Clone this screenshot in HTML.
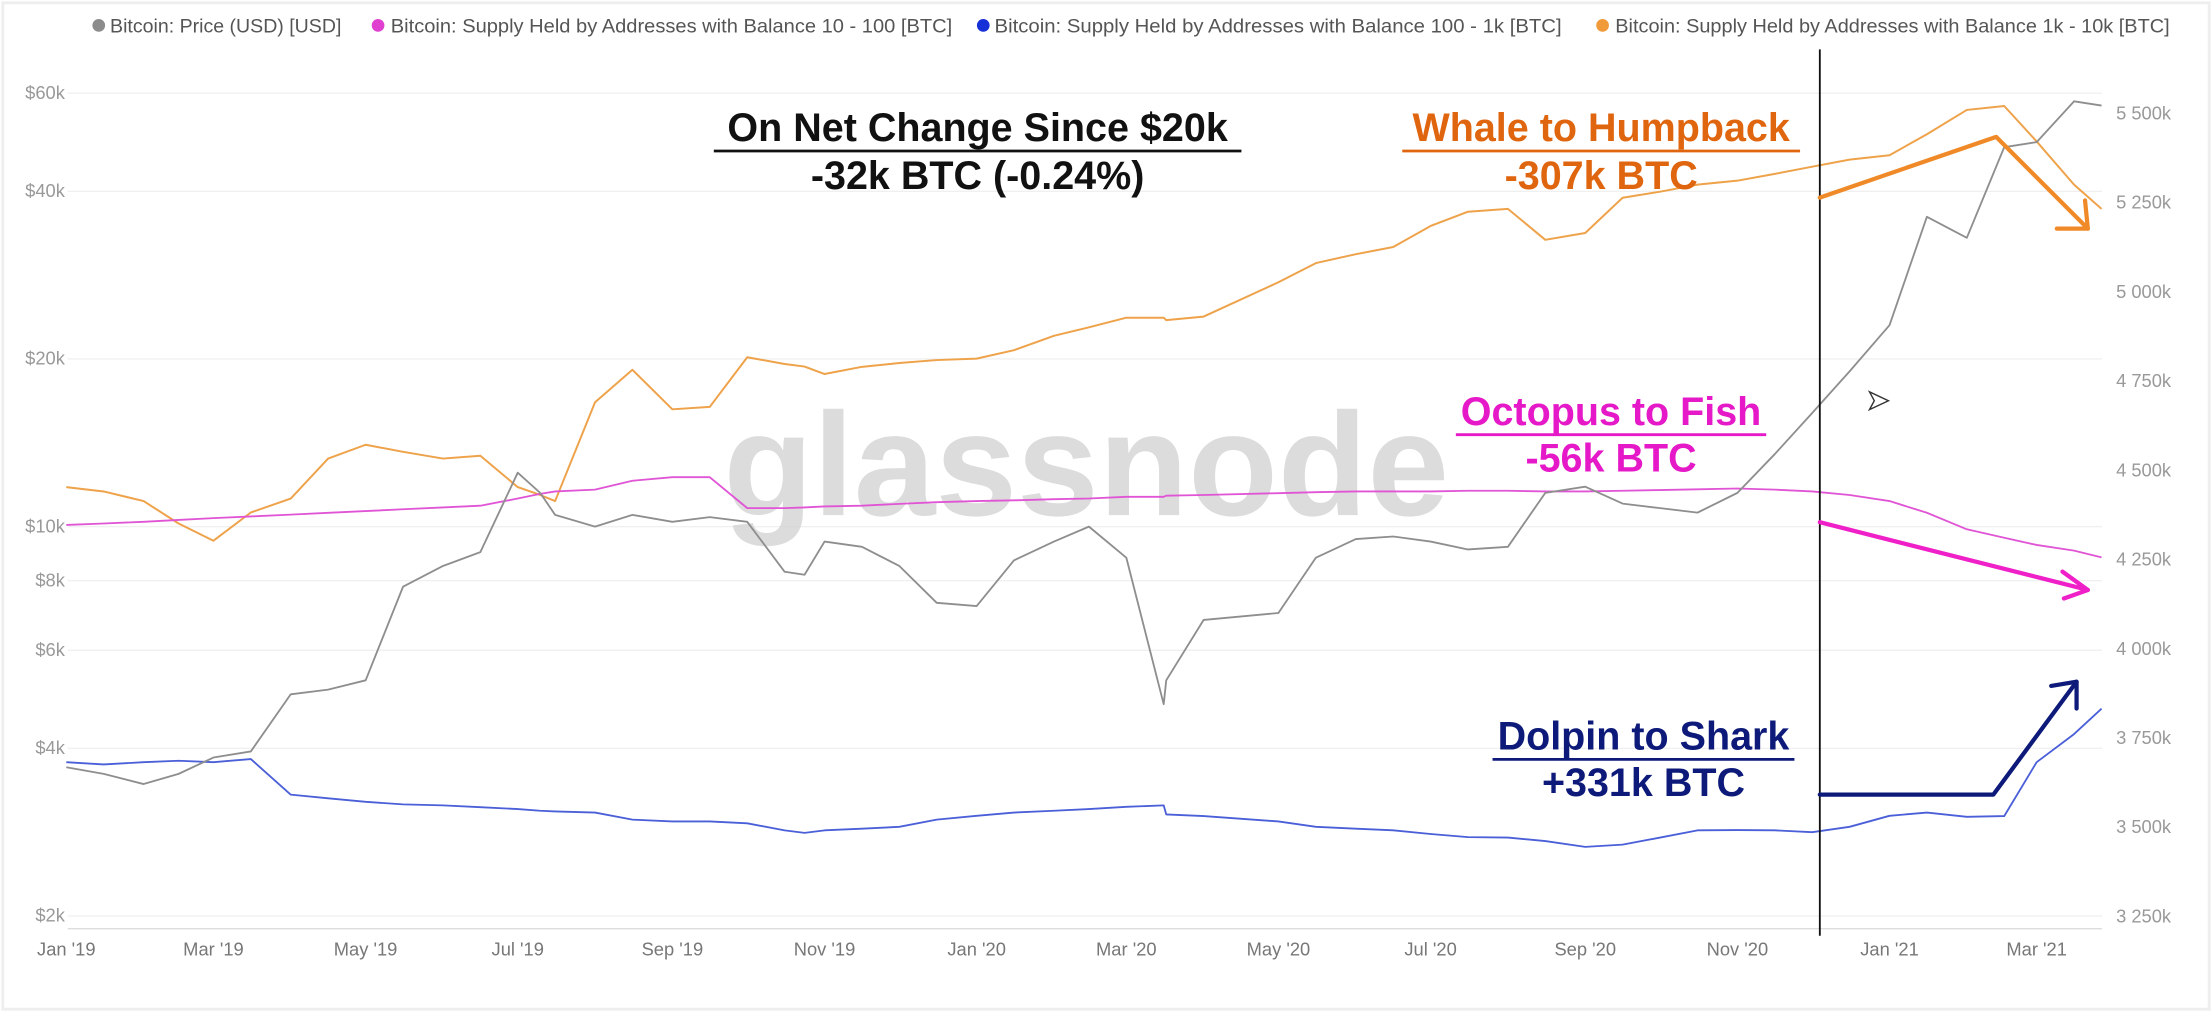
<!DOCTYPE html>
<html><head><meta charset="utf-8"><style>
html,body{margin:0;padding:0;background:#fff;}
svg{display:block;font-family:"Liberation Sans",sans-serif;}
</style></head><body>
<svg id="chart" width="2212" height="1012" viewBox="0 0 1568 717" preserveAspectRatio="none" xmlns="http://www.w3.org/2000/svg">
<rect x="0" y="0" width="1568" height="717" fill="#fff"/>
<rect x="2" y="2" width="1564" height="713" fill="none" stroke="#eee" stroke-width="2"/>
<g id="legend" font-size="14" fill="#555">
 <g><circle cx="70" cy="18" r="4.5" fill="#8c8c8c"/><text x="78" y="23" textLength="164" lengthAdjust="spacingAndGlyphs">Bitcoin: Price (USD) [USD]</text></g>
 <g><circle cx="268" cy="18" r="4.5" fill="#e040d0"/><text x="277" y="23" textLength="398" lengthAdjust="spacingAndGlyphs">Bitcoin: Supply Held by Addresses with Balance 10 - 100 [BTC]</text></g>
 <g><circle cx="697" cy="18" r="4.5" fill="#1630d8"/><text x="705" y="23" textLength="402" lengthAdjust="spacingAndGlyphs">Bitcoin: Supply Held by Addresses with Balance 100 - 1k [BTC]</text></g>
 <g><circle cx="1136" cy="18" r="4.5" fill="#f09a3a"/><text x="1145" y="23" textLength="393" lengthAdjust="spacingAndGlyphs">Bitcoin: Supply Held by Addresses with Balance 1k - 10k [BTC]</text></g>
</g>
<g id="grid"></g>
<g id="yleft" font-size="13" fill="#999"></g>
<g id="yright" font-size="13" fill="#999"></g>
<g id="xaxis" font-size="13" fill="#777"></g>
<text x="770" y="365" font-size="104" font-weight="bold" fill="#d6d6d6" text-anchor="middle" opacity="0.85">glassnode</text>
<g id="series"></g>
<line x1="1290" y1="35" x2="1290" y2="663" stroke="#111" stroke-width="1.3"/>
<g font-weight="bold" text-anchor="middle" font-size="28">
 <text x="693" y="100" fill="#111">On Net Change Since $20k</text>
 <line x1="506" y1="107" x2="880" y2="107" stroke="#111" stroke-width="2"/>
 <text x="693" y="134" fill="#111">-32k BTC (-0.24%)</text>
 <text x="1135" y="100" fill="#e0650f">Whale to Humpback</text>
 <line x1="994" y1="107" x2="1276" y2="107" stroke="#e0650f" stroke-width="2"/>
 <text x="1135" y="134" fill="#e0650f">-307k BTC</text>
 <text x="1142" y="301" fill="#e619c8">Octopus to Fish</text>
 <line x1="1032" y1="308" x2="1252" y2="308" stroke="#e619c8" stroke-width="2"/>
 <text x="1142" y="334" fill="#e619c8">-56k BTC</text>
 <text x="1165" y="531" fill="#0d1a7a">Dolpin to Shark</text>
 <line x1="1058" y1="538" x2="1272" y2="538" stroke="#0d1a7a" stroke-width="2"/>
 <text x="1165" y="564" fill="#0d1a7a">+331k BTC</text>
</g>
<g fill="none" stroke-width="3" stroke-linejoin="round" stroke-linecap="round">
 <polyline points="1290,140 1415,97 1480,162" stroke="#f08a28"/>
 <polyline points="1458,162 1480,162 1478,142" stroke="#f08a28"/>
 <line x1="1290" y1="370" x2="1480" y2="418" stroke="#f020c8"/>
 <polyline points="1462,405 1480,418 1463,424" stroke="#f020c8"/>
 <polyline points="1290,563 1413,563 1472,483" stroke="#0d1a7a"/>
 <polyline points="1454,486 1472,483 1472,502" stroke="#0d1a7a"/>
</g>
<text x="1323" y="290" font-size="20" fill="#fff" stroke="#333" stroke-width="1">➤</text>
</svg>
<script>
const days = [0,15,31,45,59,74,90,105,120,135,151,166,181,190,196,212,227,243,258,273,288,296,304,319,334,349,365,380,396,410,425,440,441,456,486,501,517,532,547,562,578,593,609,624,639,654,670,685,700,715,731,746,762,777,790,805,816];
const priceUSD = [3700,3600,3450,3600,3850,3950,5000,5100,5300,7800,8500,9000,12500,11500,10500,10000,10500,10200,10400,10200,8300,8200,9400,9200,8500,7300,7200,8700,9400,10000,8800,4800,5300,6800,7000,8800,9500,9600,9400,9100,9200,11500,11800,11000,10800,10600,11500,13500,16000,19000,23000,36000,33000,48000,49000,58000,57000];
const supply1k10k = [4452,4440,4413,4350,4302,4381,4420,4532,4571,4551,4532,4540,4452,4430,4413,4690,4781,4670,4677,4816,4797,4790,4769,4789,4800,4808,4812,4836,4876,4900,4927,4927,4920,4930,5026,5080,5105,5125,5184,5224,5232,5145,5164,5263,5280,5300,5311,5330,5350,5370,5382,5441,5509,5520,5421,5300,5232];
const supply10_100 = [4346,4350,4355,4360,4365,4370,4375,4380,4385,4390,4395,4400,4420,4433,4440,4445,4470,4480,4480,4393,4393,4395,4398,4400,4405,4410,4413,4415,4418,4420,4425,4425,4428,4430,4435,4438,4440,4440,4440,4442,4442,4440,4440,4442,4444,4446,4448,4445,4440,4430,4413,4380,4334,4310,4290,4274,4255];
const supply100_1k = [3681,3675,3681,3685,3681,3690,3590,3580,3570,3563,3560,3555,3550,3545,3543,3540,3520,3515,3515,3510,3490,3483,3490,3495,3500,3520,3531,3540,3545,3550,3556,3560,3535,3530,3515,3500,3495,3490,3480,3471,3470,3460,3444,3450,3470,3490,3491,3490,3485,3500,3531,3540,3528,3530,3681,3760,3831];
const leftTicks = [60000,40000,20000,10000,8000,6000,4000,2000];
const leftTickLabels = ["$60k","$40k","$20k","$10k","$8k","$6k","$4k","$2k"];
const rightTicks = [5500,5250,5000,4750,4500,4250,4000,3750,3500,3250];
const rightTickLabels = ["5 500k","5 250k","5 000k","4 750k","4 500k","4 250k","4 000k","3 750k","3 500k","3 250k"];
const xTickDays = [0,59,120,181,243,304,365,425,486,547,609,670,731,790];
const xTickLabels = ["Jan '19","Mar '19","May '19","Jul '19","Sep '19","Nov '19","Jan '20","Mar '20","May '20","Jul '20","Sep '20","Nov '20","Jan '21","Mar '21"];

const NS="http://www.w3.org/2000/svg";
const X0=48, X1=1490, Y_BOT=649;
function xScale(d){ return 47 + d*1.768; }
function yLeft(v){ return Y_BOT - 171.4*Math.log(v/2000); }
function yRight(v){ return Y_BOT - (v-3250)/250*63.2; }
function mk(tag, attrs, parent){ const e=document.createElementNS(NS,tag); for(const k in attrs) e.setAttribute(k,attrs[k]); parent.appendChild(e); return e; }

const grid=document.getElementById('grid');
const yl=document.getElementById('yleft');
const yr=document.getElementById('yright');
const xa=document.getElementById('xaxis');
leftTicks.forEach((v,i)=>{
  const y=yLeft(v);
  const g=mk('line',{x1:X0,x2:X1,y1:y,y2:y,stroke:'#f0f0f0','stroke-width':1},grid);
  
  
  const t=mk('text',{x:46,y:y+4,'text-anchor':'end'},yl);
  t.textContent=leftTickLabels[i];
  
  
});
rightTicks.forEach((v,i)=>{
  const y=yRight(v);
  const t=mk('text',{x:1500,y:y+4.5},yr);
  t.textContent=rightTickLabels[i];
  
  
});
xTickDays.forEach((d,i)=>{
  const t=mk('text',{x:xScale(d),y:677,'text-anchor':'middle'},xa);
  t.textContent=xTickLabels[i];
  
  
});
mk('line',{x1:X0,x2:X1,y1:658,y2:658,stroke:'#ddd'},grid);

const S=document.getElementById('series');
function line(vals, yf, color, name, w){
  const pts=vals.map((v,i)=>xScale(days[i]).toFixed(1)+','+yf(v).toFixed(1)).join(' ');
  const p=mk('polyline',{points:pts,fill:'none',stroke:color,'stroke-width':w,'stroke-linejoin':'round'},S);
  
  
}
line(supply1k10k,yRight,'#eea24a','series-1k-10k',1.4);
line(supply10_100,yRight,'#e055d5','series-10-100',1.3);
line(supply100_1k,yRight,'#4a5fd8','series-100-1k',1.3);
line(priceUSD,yLeft,'#8e8e8e','series-price',1.3);
</script>
</body></html>
